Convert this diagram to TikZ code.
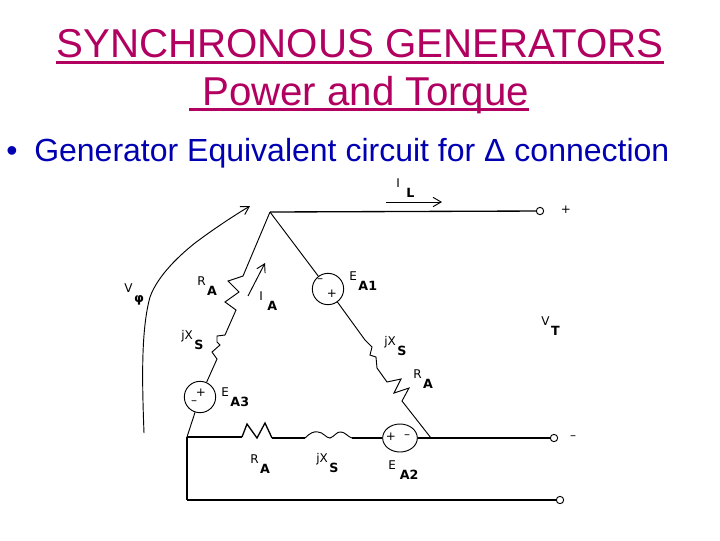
\documentclass[tikz,border=0pt]{standalone}
\usepackage{fontspec}
\setmainfont{Liberation Sans}
\newfontfamily\labelfont{DejaVu Sans}
\usetikzlibrary{arrows.meta,shapes.geometric}
\definecolor{titlered}{RGB}{178,0,96}
\definecolor{bodyblue}{RGB}{0,0,178}
\newcommand{\sublabel}[3][1.2pt]{#2\hspace{#1}\raisebox{-7.5pt}{\fontsize{9.5}{9.5}\selectfont\textbf{#3}}}

\begin{document}
\begin{tikzpicture}[x=0.75pt,y=-0.75pt,>={Straight Barb[length=6pt,width=7pt]},
  title node/.style={font=\fontsize{30.2}{30}\selectfont,text=titlered,inner sep=0pt,anchor=base},
  title line/.style={draw=titlered,line width=2.2pt},
  body node/.style={font=\fontsize{24}{24}\selectfont,text=bodyblue,inner sep=0pt,anchor=base west},
  wire/.style={line width=1pt},
  thin wire/.style={line width=0.7pt},
  source node/.style={circle,draw,line width=0.7pt,inner sep=0pt,minimum size=23.5pt},
  terminal node/.style={circle,draw,line width=0.7pt,inner sep=0pt,minimum size=5.5pt},
  mark node/.style={font=\labelfont\fontsize{9}{9}\selectfont,inner sep=0pt},
  value node/.style={font=\labelfont\fontsize{9}{9}\selectfont,inner sep=0pt,anchor=base west}]

  \useasboundingbox (0,0) rectangle (720,540);

  \node[title node] (TITLEA) at (360,57) {SYNCHRONOUS GENERATORS};
  \node[title node] (TITLEB) at (359,105) {\hspace{10pt}Power and Torque};
  \draw[title line] ([yshift=-3.8pt]TITLEA.base west) -- ([yshift=-3.8pt]TITLEA.base east);
  \draw[title line] ([yshift=-3.2pt]TITLEB.base west) -- ([yshift=-3.2pt]TITLEB.base east);
  \node[body node] (BODY) at (6,161) {•\hspace{12.6pt}Generator Equivalent circuit for Δ connection};

  % junctions and terminals
  \coordinate (APEX) at (270,212);
  \coordinate (LEFT) at (187,437);
  \coordinate (RIGHT) at (431,438);
  \coordinate (CORNER) at (187,500);
  \node[terminal node] (TPLUS) at (540,211) {};
  \node[terminal node] (TMINUS) at (554,438) {};
  \node[terminal node] (TBOT) at (560,500) {};

  % sources
  \node[source node] (EAONE) at (328,289) {};
  \node[source node] (EATHREE) at (200,397) {};
  \node[source node,ellipse,minimum width=26pt,minimum height=21pt] (EATWO) at (400,438) {};

  % outer wires
  \draw[wire] (APEX) -- (TPLUS);
  \draw[wire] (LEFT) -- (242,437);
  \draw[wire] (272,438) -- (305,438);
  \draw[wire] (352,438) -- (EATWO);
  \draw[wire] (EATWO) -- (TMINUS);
  \draw[line width=1.5pt] (LEFT) -- (CORNER);
  \draw[wire] (CORNER) -- (TBOT);

  % left leg
  \draw[thin wire] (APEX) -- (243,276) -- (228,281) -- (239,292) -- (225,302) -- (236,310)
    -- (225,335) -- (217,336) -- (217,342) -- (220,345) -- (212,352) -- (217,359) -- (EATHREE);
  \draw[thin wire] (EATHREE) -- (LEFT);

  % right leg
  \draw[thin wire] (APEX) -- (EAONE);
  \draw[thin wire] (EAONE) -- (365,340) -- (372,347) -- (370,355) -- (376,357) -- (377,368)
    -- (387,382) -- (401,379) -- (394,393) -- (409,388) -- (402,401) -- (RIGHT);

  % bottom leg
  \draw[wire] (242,437) -- (247,424) -- (257,438) -- (265,423) -- (272,438);
  \draw[thin wire] (305,438) .. controls (310,433) and (314,431) .. (318,432)
    .. controls (323,432) and (326,438) .. (330,438)
    .. controls (334,437) and (337,431) .. (341,432)
    .. controls (345,432) and (348,437) .. (352,438);

  % arrows
  \draw[->,thin wire] (386,202) -- (442,202);
  \draw[->,thin wire] (248,296) -- (265,263);
  \draw[->,thin wire] (144,433) .. controls (142,380) and (141,330) .. (150,297)
    .. controls (158,275) and (180,255) .. (195,243)
    .. controls (215,228) and (235,215) .. (250,206);

  % labels
  \node[value node] (LIL) at (396,187) {\sublabel[5pt]{I}{L}};
  \node[value node] (LVP) at (124,292) {\sublabel{V}{φ}};
  \node[value node] (LRA) at (197,285) {\sublabel{R}{A}};
  \node[value node] (LIA) at (259,300) {\sublabel[3.5pt]{I}{A}};
  \node[value node] (LEAONE) at (349,280) {\sublabel{E}{A1}};
  \node[value node] (LVT) at (541,325) {\sublabel{V}{T}};
  \node[value node] (LXL) at (181,339) {\sublabel{jX}{S}};
  \node[value node] (LXR) at (384,345) {\sublabel{jX}{S}};
  \node[value node] (LRR) at (413,378) {\sublabel{R}{A}};
  \node[value node] (LEATHREE) at (221,396) {\sublabel{E}{A3}};
  \node[value node] (LRB) at (250,463) {\sublabel{R}{A}};
  \node[value node] (LXB) at (316,462) {\sublabel{jX}{S}};
  \node[value node] (LEATWO) at (388,469) {\sublabel[3pt]{E}{A2}};

  % polarity marks
  \node[mark node] (PTP) at (566,210) {+};
  \node[mark node] (PTM) at (573,438) {–};
  \node[mark node] (PAOM) at (320,281) {–};
  \node[mark node] (PAOP) at (332,294) {+};
  \node[mark node] (PATP) at (201,393) {+};
  \node[mark node] (PATM) at (194,403) {–};
  \node[mark node] (PBP) at (391,437) {+};
  \node[mark node] (PBM) at (407,437) {–};
\end{tikzpicture}
\end{document}
